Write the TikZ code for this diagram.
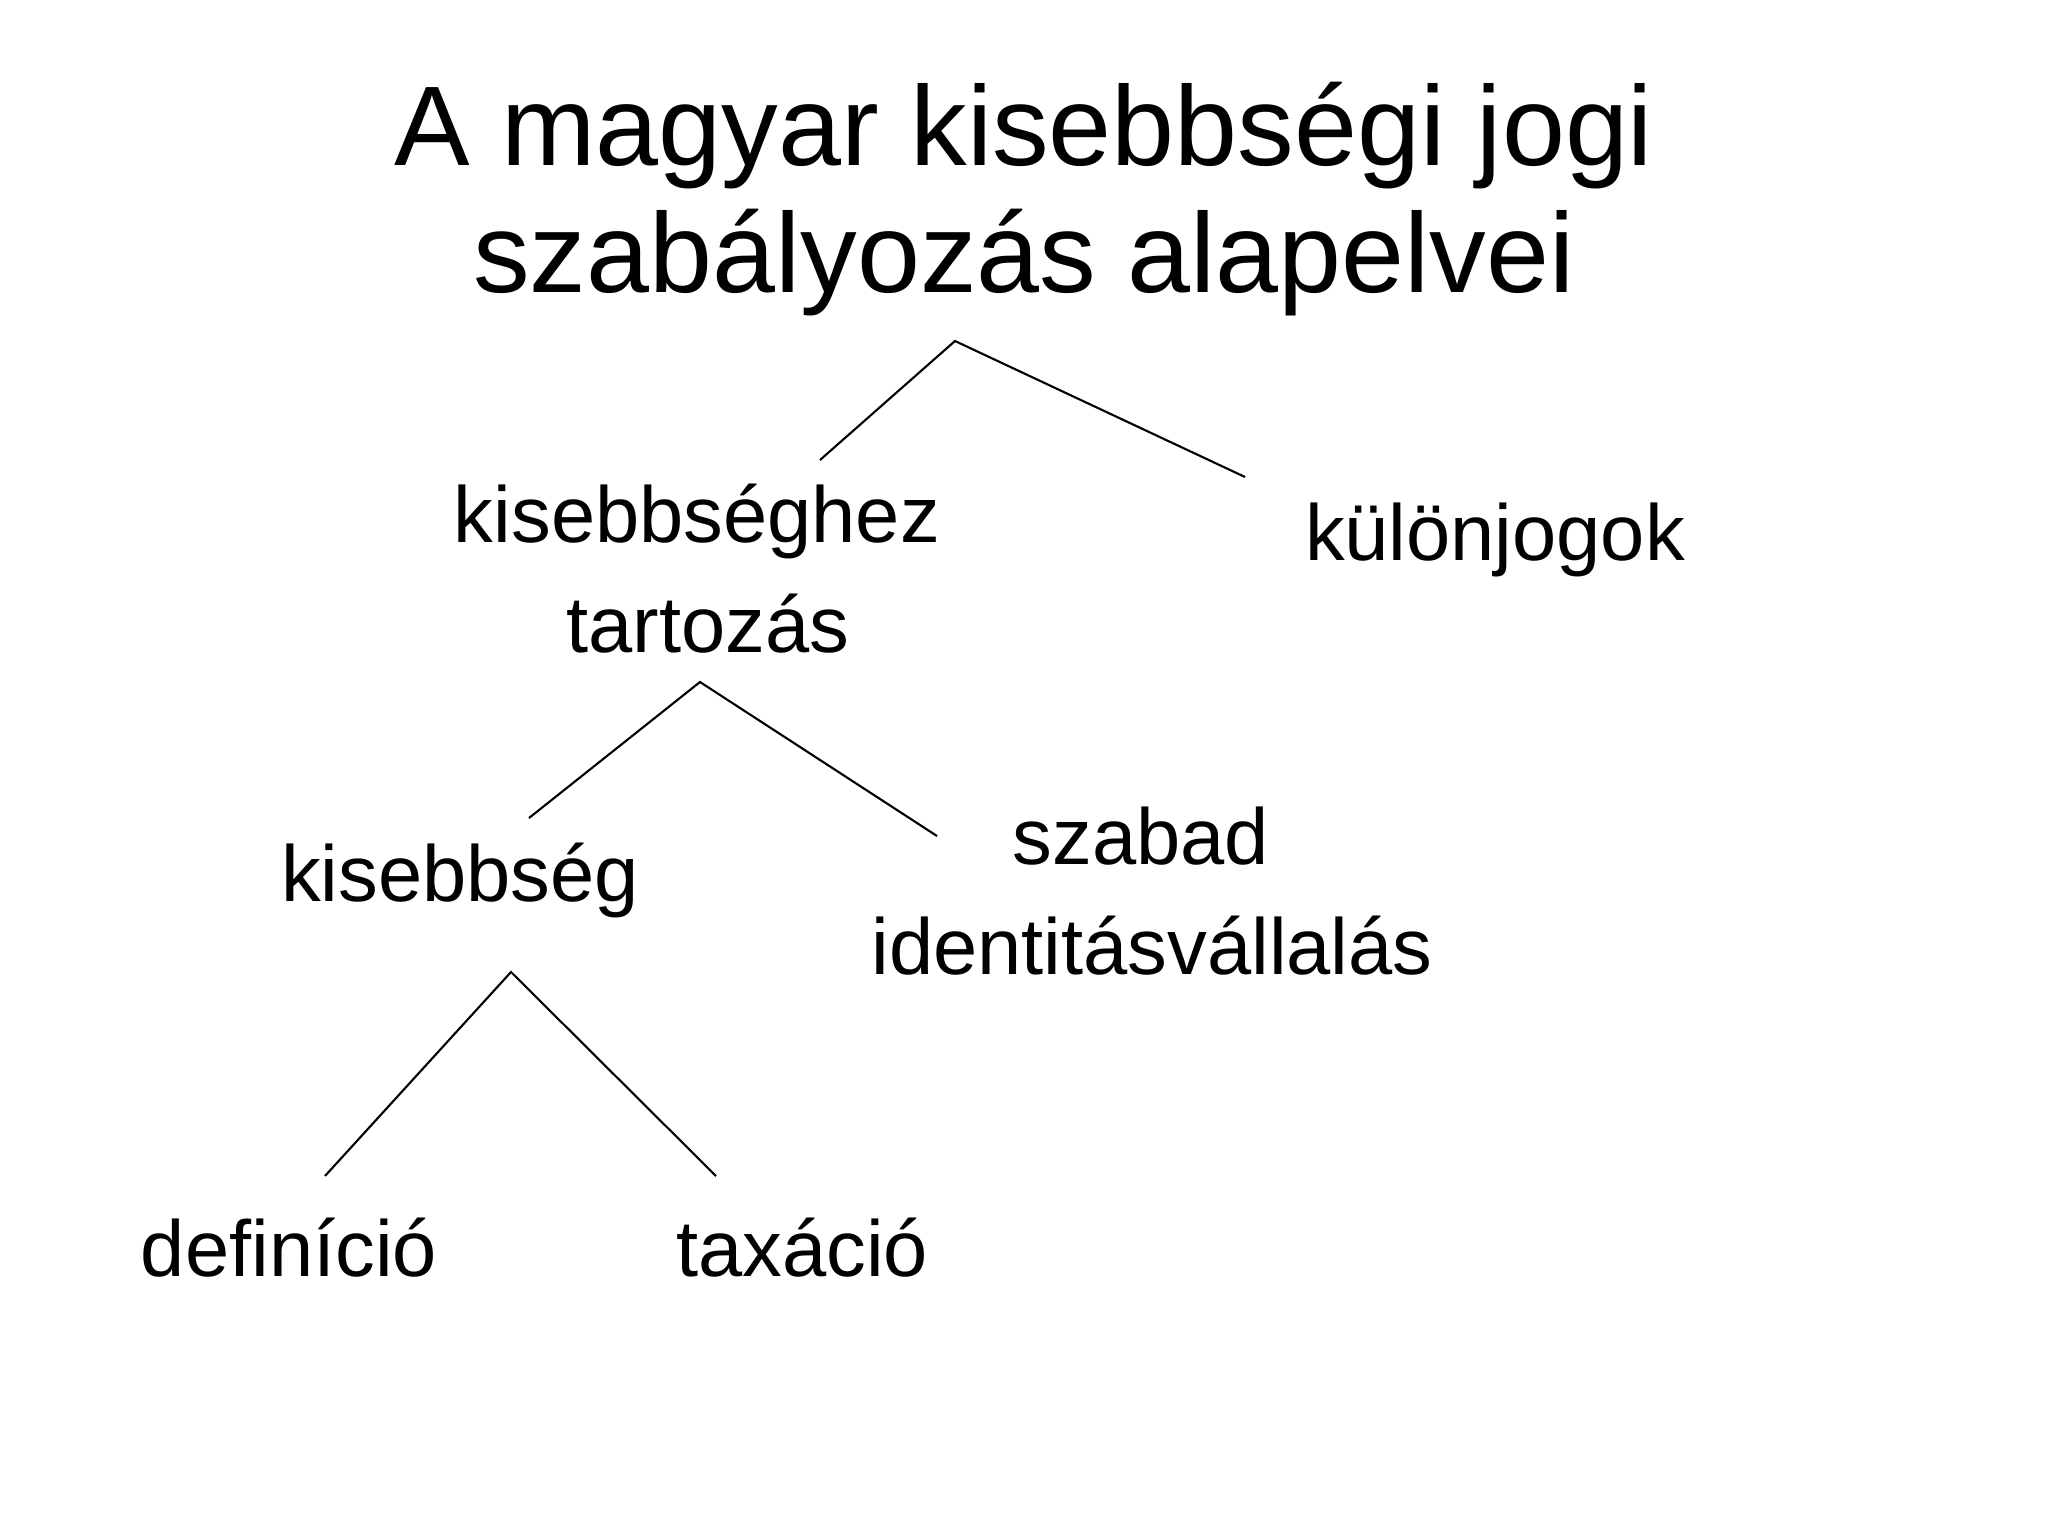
\documentclass[tikz,border=0pt]{standalone}
\usepackage{fontspec}
\setmainfont{Liberation Sans}
\begin{document}
\begin{tikzpicture}[x=0.01cm, y=-0.01cm,
    word/.style={anchor=base, inner sep=0pt, align=center, font=\fontsize{22.6}{31}\selectfont}]
    \useasboundingbox (0,0) rectangle (2048,1536);

    \node[anchor=base, inner sep=0pt, align=center, font=\fontsize{32.2}{36.1}\selectfont] (0) at (1024,292) {A magyar kisebbségi jogi\\szabályozás alapelvei};

    \node[word] (1) at (708,652) {kisebbséghez\kern.278em\\tartozás};
    \node[word] (2) at (1495,560) {különjogok};
    \node[word] (3) at (460,901) {kisebbség};
    \node[word] (4) at (1152,974) {szabad\kern.278em\\identitásvállalás};
    \node[word] (5) at (289,1276) {definíció};
    \node[word] (6) at (802,1276) {taxáció};

    \coordinate (a0) at (955,341);
    \coordinate (a1) at (820,460);
    \coordinate (a2) at (1245,477);
    \coordinate (b0) at (700,682);
    \coordinate (b1) at (529,818);
    \coordinate (b2) at (937,836);
    \coordinate (c0) at (511,972);
    \coordinate (c1) at (325,1176);
    \coordinate (c2) at (716,1176);

    \draw[line width=0.6pt] (a1) -- (a0) -- (a2);
    \draw[line width=0.6pt] (b1) -- (b0) -- (b2);
    \draw[line width=0.6pt] (c1) -- (c0) -- (c2);
  \end{tikzpicture}
\end{document}
